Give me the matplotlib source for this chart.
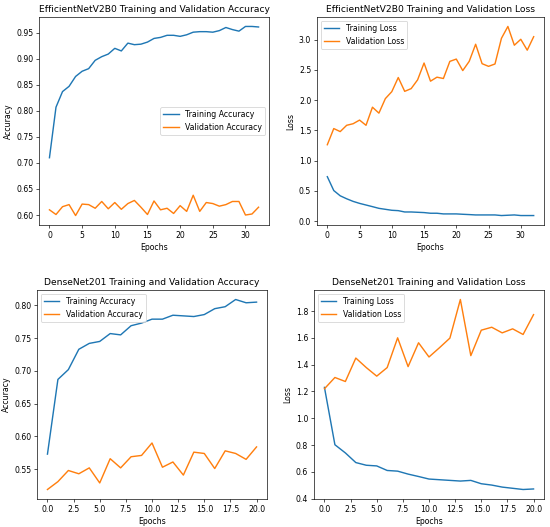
import matplotlib
matplotlib.use("Agg")
import matplotlib.pyplot as plt
import numpy as np

# EfficientNetV2B0
eff_train_acc = [0.710, 0.807, 0.837, 0.847, 0.866, 0.876, 0.881, 0.897, 0.904, 0.909,
                 0.920, 0.915, 0.930, 0.927, 0.928, 0.932, 0.939, 0.941, 0.945, 0.945,
                 0.943, 0.946, 0.951, 0.952, 0.952, 0.951, 0.954, 0.960, 0.956, 0.953,
                 0.962, 0.962, 0.961]
eff_val_acc = [0.610, 0.601, 0.616, 0.620, 0.599, 0.621, 0.620, 0.613, 0.626, 0.612,
               0.624, 0.611, 0.622, 0.628, 0.615, 0.601, 0.627, 0.610, 0.613, 0.603,
               0.618, 0.607, 0.638, 0.607, 0.624, 0.622, 0.617, 0.620, 0.626, 0.626,
               0.600, 0.602, 0.615]
eff_train_loss = [0.735, 0.506, 0.419, 0.370, 0.327, 0.294, 0.267, 0.240, 0.212, 0.196,
                  0.180, 0.174, 0.152, 0.152, 0.147, 0.142, 0.131, 0.131, 0.120, 0.120,
                  0.120, 0.114, 0.109, 0.103, 0.103, 0.103, 0.103, 0.093, 0.098, 0.103,
                  0.093, 0.093, 0.093]
eff_val_loss = [1.263, 1.530, 1.480, 1.584, 1.610, 1.670, 1.584, 1.883, 1.785, 2.025,
                2.140, 2.373, 2.145, 2.190, 2.335, 2.613, 2.313, 2.379, 2.357, 2.640,
                2.678, 2.488, 2.640, 2.923, 2.602, 2.558, 2.597, 3.021, 3.217, 2.907,
                3.005, 2.825, 3.048]

# DenseNet201
dn_train_acc = [0.573, 0.687, 0.702, 0.733, 0.742, 0.745, 0.757, 0.755, 0.769, 0.773,
                0.779, 0.779, 0.785, 0.784, 0.783, 0.786, 0.795, 0.798, 0.809, 0.804,
                0.805]
dn_val_acc = [0.519, 0.531, 0.548, 0.543, 0.552, 0.529, 0.566, 0.552, 0.569, 0.571,
              0.590, 0.553, 0.561, 0.541, 0.576, 0.574, 0.551, 0.578, 0.574, 0.565,
              0.584]
dn_train_loss = [1.230, 0.802, 0.741, 0.669, 0.649, 0.644, 0.610, 0.605, 0.583, 0.565,
                 0.546, 0.541, 0.536, 0.531, 0.536, 0.511, 0.501, 0.486, 0.477, 0.468,
                 0.472]
dn_val_loss = [1.220, 1.304, 1.274, 1.449, 1.378, 1.314, 1.378, 1.600, 1.385, 1.563,
               1.457, 1.526, 1.598, 1.886, 1.467, 1.657, 1.679, 1.637, 1.667, 1.625,
               1.773]

DPI = 60
plt.rcParams['font.size'] = 9.3
plt.rcParams['axes.titlesize'] = 11
plt.rcParams['lines.linewidth'] = 1.7
fig = plt.figure(figsize=(550 / DPI, 527 / DPI), dpi=DPI)
W, H = 550, 527

def ax_at(l, t, r, b):
    return fig.add_axes([l / W, 1 - b / H, (r - l) / W, (b - t) / H])

ax1 = ax_at(39, 17, 269, 225)
ax2 = ax_at(317, 17, 544, 225)
ax3 = ax_at(37, 290, 267, 499)
ax4 = ax_at(314, 290, 544, 499)

e1 = np.arange(len(eff_train_acc))
e2 = np.arange(len(dn_train_acc))

ax1.plot(e1, eff_train_acc, label="Training Accuracy")
ax1.plot(e1, eff_val_acc, label="Validation Accuracy")
ax1.set_title("EfficientNetV2B0 Training and Validation Accuracy")
ax1.set_xlabel("Epochs")
ax1.set_ylabel("Accuracy")
ax1.legend(loc="center right")

ax2.plot(e1, eff_train_loss, label="Training Loss")
ax2.plot(e1, eff_val_loss, label="Validation Loss")
ax2.set_title("EfficientNetV2B0 Training and Validation Loss")
ax2.set_xlabel("Epochs")
ax2.set_ylabel("Loss")
ax2.legend(loc="upper left")

ax3.plot(e2, dn_train_acc, label="Training Accuracy")
ax3.plot(e2, dn_val_acc, label="Validation Accuracy")
ax3.set_title("DenseNet201 Training and Validation Accuracy")
ax3.set_xlabel("Epochs")
ax3.set_ylabel("Accuracy")
ax3.legend(loc="upper left")

ax4.plot(e2, dn_train_loss, label="Training Loss")
ax4.plot(e2, dn_val_loss, label="Validation Loss")
ax4.set_title("DenseNet201 Training and Validation Loss")
ax4.set_xlabel("Epochs")
ax4.set_ylabel("Loss")
ax4.legend(loc="upper left")

fig.savefig("out.png", dpi=DPI)
